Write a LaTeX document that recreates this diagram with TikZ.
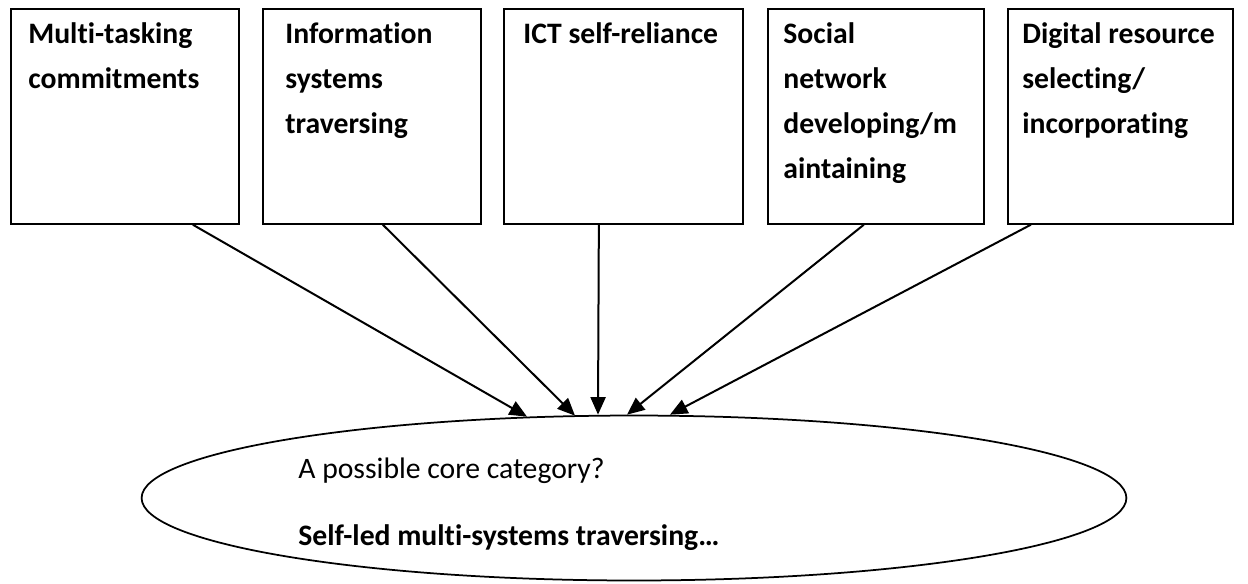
\documentclass[tikz,border=0pt]{standalone}
\usepackage{fontspec}
\setmainfont{Carlito}[Ligatures=NoCommon]
\usepackage{tikz}
\usetikzlibrary{arrows.meta,shapes.geometric,calc}

\begin{document}
\begin{tikzpicture}[x=0.02cm,y=-0.02cm,
  catbox/.style={draw,line width=0.35mm,anchor=north west,inner sep=0pt,minimum height=4.3cm},
  cattext/.style={anchor=base west,align=left,inner sep=0pt,font=\bfseries\fontsize{16.9}{25.6}\selectfont},
  toward/.style={-{Triangle[length=3.5mm,width=3mm]},line width=0.4mm}]
\useasboundingbox (0,0) rectangle (1248,583);
% the five categories
\node[catbox,minimum width=4.56cm] (multi) at (10,8) {};
\node[catbox,minimum width=4.36cm] (info) at (262,8) {};
\node[catbox,minimum width=4.78cm] (ict) at (503,8) {};
\node[catbox,minimum width=4.32cm] (social) at (767,8) {};
\node[catbox,minimum width=4.5cm] (digital) at (1007,8) {};
% base of a text = its last line
\node[cattext] (multitxt) at (28,88) {Multi-tasking\\commitments};
\node[cattext] (infotxt) at (285,133) {Information\\systems\\traversing};
\node[cattext] (icttxt) at (523,43) {ICT self-reliance};
\node[cattext] (socialtxt) at (783,178) {Social\\network\\developing/m\\aintaining};
\node[cattext] (digitaltxt) at (1022,133) {Digital resource\\selecting/\\incorporating};
% core category
\node[draw,ellipse,line width=0.35mm,minimum width=19.7cm,minimum height=3.3cm,inner sep=0pt] (core) at (634,498) {};
\node[anchor=base west,inner sep=0pt,font=\fontsize{16.9}{25.6}\selectfont] (coreq) at (298,478) {A possible core category?};
\node[anchor=base west,inner sep=0pt,font=\bfseries\fontsize{16.9}{25.6}\selectfont] (coretxt) at (298,545) {Self-led multi-systems traversing…};
\draw[toward] ($(multi.south)+(68,0)$) -- ($(core.north)+(-107,2)$);
\draw[toward] ($(info.south)+(11,0)$) -- ($(core.north)+(-59,1)$);
\draw[toward] ($(ict.south)+(-24.5,0)$) -- ($(core.north)+(-36,0)$);
\draw[toward] ($(social.south)+(-12,0)$) -- ($(core.north)+(-7,0)$);
\draw[toward] ($(digital.south)+(-89.5,0)$) -- ($(core.north)+(36,0)$);
\end{tikzpicture}
\end{document}
